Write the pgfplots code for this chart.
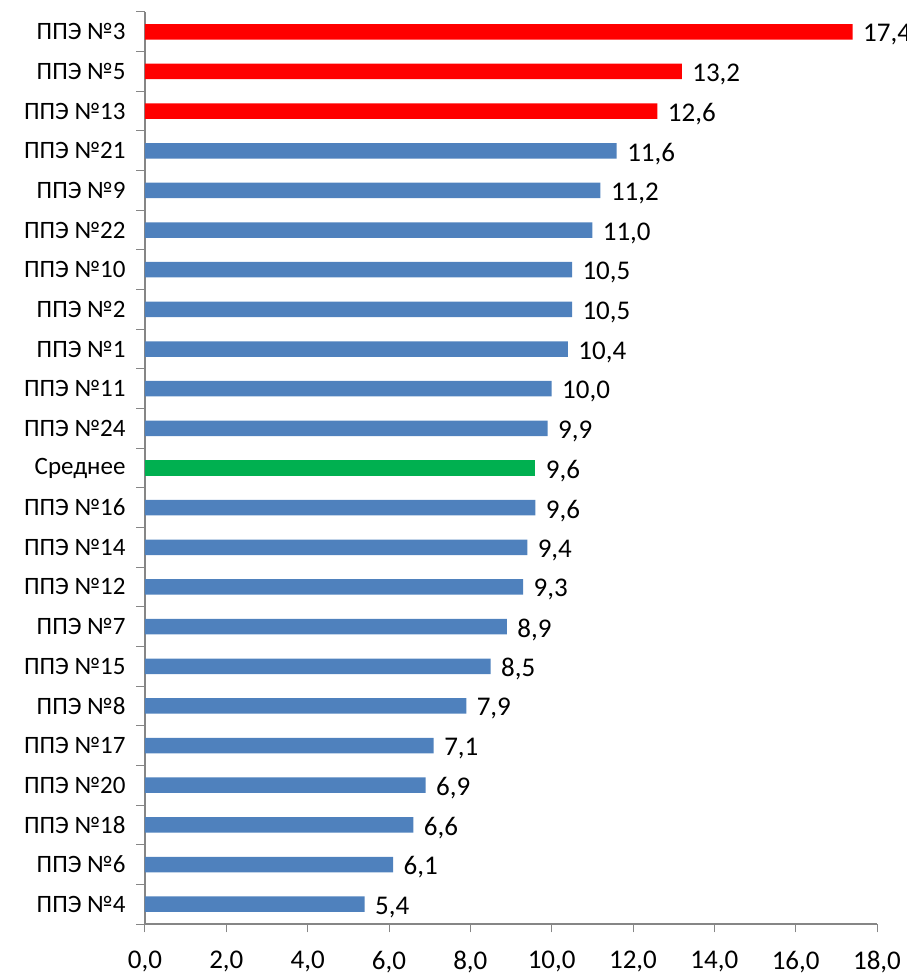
\documentclass[border=0pt]{standalone}
\usepackage{fontspec}
\setmainfont{Carlito}
\usepackage{pgfplots}
\pgfplotsset{compat=1.18}
\usetikzlibrary{calc}
\definecolor{barblue}{HTML}{4F81BD}
\definecolor{barred}{HTML}{FF0000}
\definecolor{bargreen}{HTML}{00B050}
\definecolor{axgray}{HTML}{868686}
\begin{document}
\begin{tikzpicture}
\begin{axis}[
    scale only axis,
    width=732pt, height=912pt,
    xbar, bar width=15.5pt, bar shift=0pt,
    xmin=0, xmax=18, ymin=-0.5, ymax=22.5,
    clip=false,
    axis x line*=bottom, axis y line*=left,
    axis line style={axgray, line width=1.1pt},
    every tick/.style={axgray, line width=1pt},
    tick align=outside, major tick length=8.5pt,
    xtick={0,2,...,18},
    xticklabel style={font=\fontsize{27}{32}\selectfont, yshift=-15pt},
    /pgf/number format/.cd, fixed, fixed zerofill, precision=1, use comma, assume math mode=true,
    /pgfplots/.cd,
    ytick={-0.5,0.5,...,22.5}, yticklabels={},
    extra y ticks={0,...,22},
    extra y tick labels={ППЭ №4,ППЭ №6,ППЭ №18,ППЭ №20,ППЭ №17,ППЭ №8,ППЭ №15,ППЭ №7,ППЭ №12,ППЭ №14,ППЭ №16,Среднее,ППЭ №24,ППЭ №11,ППЭ №1,ППЭ №2,ППЭ №10,ППЭ №22,ППЭ №9,ППЭ №21,ППЭ №13,ППЭ №5,ППЭ №3},
    extra y tick style={major tick length=0pt, yticklabel style={font=\fontsize{25}{30}\selectfont, xshift=-16pt}},
    point meta=x,
    nodes near coords={\pgfmathprintnumber[fixed,fixed zerofill,precision=1,use comma,assume math mode=true]{\pgfplotspointmeta}},
    every node near coord/.append style={font=\fontsize{27}{32}\selectfont, black, xshift=7pt, yshift=-3pt},
]
\addplot[draw=none, fill=barblue] coordinates {
(5.4,0) (6.1,1) (6.6,2) (6.9,3) (7.1,4) (7.9,5) (8.5,6) (8.9,7) (9.3,8) (9.4,9) (9.6,10)
(9.9,12) (10.0,13) (10.4,14) (10.5,15) (10.5,16) (11.0,17) (11.2,18) (11.6,19)};
\addplot[draw=none, fill=bargreen] coordinates {(9.6,11)};
\addplot[draw=none, fill=barred] coordinates {(12.6,20) (13.2,21) (17.4,22)};
\coordinate (bl) at (rel axis cs:0,0);
\end{axis}
\pgfresetboundingbox
\path[use as bounding box] ($(bl)+(-145pt,-56pt)$) rectangle ++(906pt,980pt);
\end{tikzpicture}
\end{document}
